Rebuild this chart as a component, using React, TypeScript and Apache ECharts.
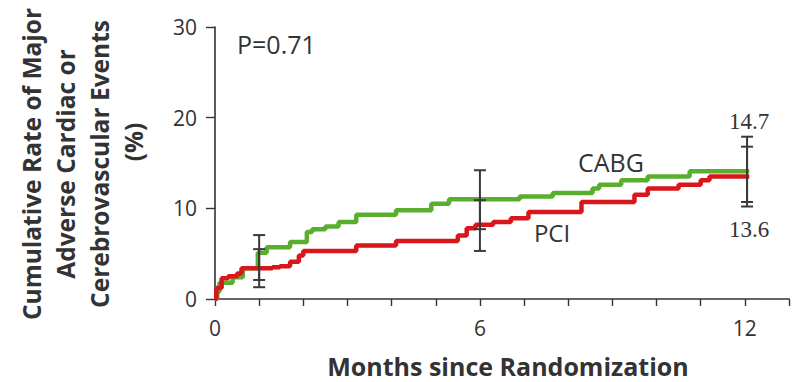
import React, { useEffect, useRef } from "react";
import * as echarts from "echarts";

// CABG (green) step curve: [month, cumulative %]
const cabgX = [0, 0.05, 0.1, 0.4, 0.63, 0.97, 1.17, 1.7, 2.08, 2.2, 2.5, 2.8, 3.2, 4.1, 4.9, 5.3, 6.9, 7.65, 8.55, 8.7, 9.2, 9.8, 10.75, 12.1];
const cabgY = [0, 0.8, 1.8, 2.4, 3.4, 5.1, 5.7, 6.3, 7.4, 7.7, 8.0, 8.5, 9.3, 9.8, 10.5, 11.0, 11.3, 11.7, 12.2, 12.6, 13.1, 13.5, 14.1, 14.1];

// PCI (red) step curve
const pciX = [0, 0.03, 0.15, 0.3, 0.5, 0.6, 1.3, 1.47, 1.7, 1.9, 2.0, 3.2, 4.1, 5.5, 5.7, 5.9, 6.3, 6.7, 7.1, 8.3, 9.5, 9.8, 10.5, 11.0, 11.2, 12.1];
const pciY = [0, 1.2, 2.3, 2.5, 2.8, 3.4, 3.5, 3.6, 4.1, 4.8, 5.3, 5.9, 6.4, 7.0, 7.8, 8.2, 8.5, 8.9, 9.6, 10.7, 11.5, 12.2, 12.6, 13.1, 13.5, 13.5];

// Error bars (95% CI)
const errX = [1, 1, 6, 6, 12.05, 12.05];
const errLow = [2.1, 1.3, 7.7, 5.3, 10.7, 10.2];
const errHigh = [7.05, 5.5, 14.2, 10.9, 17.9, 16.8];

const xTickLabels = [0, 6, 12];
const yTicks = [0, 10, 20, 30];

const yTitleLines = ["Cumulative Rate of Major", "Adverse Cardiac or", "Cerebrovascular Events", "(%)"];
const xTitle = "Months since Randomization";
const pLabel = "P=0.71";
const cabgLabel = "CABG";
const pciLabel = "PCI";
const cabgEnd = "14.7";
const pciEnd = "13.6";

const SANS = '"Open Sans", "Noto Sans", sans-serif';
const SERIF = '"Liberation Serif", "DejaVu Serif", serif';
const TXT = "#333";

export default function App() {
  const ref = useRef<HTMLDivElement>(null);

  useEffect(() => {
    if (!ref.current) return;
    const chart = echarts.init(ref.current, undefined, { renderer: "svg" });

    const cabgData = cabgX.map((x, i) => [x, cabgY[i]]);
    const pciData = pciX.map((x, i) => [x, pciY[i]]);
    const errData = errX.map((x, i) => [x, errLow[i], errHigh[i]]);

    const yTitleX = [31, 65, 99, 133];
    const yTitleY = [164, 164, 164, 142];

    const option: any = {
      animation: false,
      backgroundColor: "#fff",
      grid: { left: 215, right: 9, top: 27, bottom: 83, containLabel: false },
      xAxis: {
        type: "value",
        min: 0,
        max: 13,
        interval: 1,
        axisLine: { show: true, lineStyle: { color: "#333", width: 1.6 } },
        axisTick: { show: true, length: 7, lineStyle: { color: "#333", width: 1.4 } },
        axisLabel: {
          margin: 18,
          fontSize: 21,
          fontFamily: SANS,
          color: TXT,
          formatter: (v: number) => (xTickLabels.indexOf(v) >= 0 ? String(v) : ""),
        },
        splitLine: { show: false },
      },
      yAxis: {
        type: "value",
        min: 0,
        max: 30,
        interval: 10,
        axisLine: { show: true, lineStyle: { color: "#333", width: 1.6 } },
        axisTick: { show: true, length: 9, lineStyle: { color: "#333", width: 1.4 } },
        axisLabel: {
          margin: 18,
          fontSize: 21,
          fontFamily: SANS,
          color: TXT,
          formatter: (v: number) => (yTicks.indexOf(v) >= 0 ? String(v) : ""),
        },
        splitLine: { show: false },
      },
      series: [
        {
          name: "CABG",
          type: "line",
          step: "end",
          data: cabgData,
          showSymbol: false,
          lineStyle: { color: "#5aae2e", width: 4.5 },
          z: 2,
        },
        {
          name: "PCI",
          type: "line",
          step: "end",
          data: pciData,
          showSymbol: false,
          lineStyle: { color: "#d8161c", width: 4.5 },
          z: 3,
        },
        {
          name: "CI",
          type: "custom",
          data: errData,
          encode: { x: 0, y: [1, 2] },
          z: 5,
          renderItem: (params: any, api: any) => {
            const x = api.value(0);
            const lo = api.coord([x, api.value(1)]);
            const hi = api.coord([x, api.value(2)]);
            const w = 6;
            const style = { stroke: "#3a3a3a", lineWidth: 2 };
            return {
              type: "group",
              children: [
                { type: "line", shape: { x1: lo[0], y1: lo[1], x2: hi[0], y2: hi[1] }, style },
                { type: "line", shape: { x1: hi[0] - w, y1: hi[1], x2: hi[0] + w, y2: hi[1] }, style },
                { type: "line", shape: { x1: lo[0] - w, y1: lo[1], x2: lo[0] + w, y2: lo[1] }, style },
              ],
            };
          },
        },
      ],
      graphic: [
        ...yTitleLines.map((t, i) => ({
          type: "text",
          x: yTitleX[i],
          y: yTitleY[i],
          rotation: Math.PI / 2,
          style: {
            text: t,
            font: `bold 24.5px ${SANS}`,
            fill: TXT,
            align: "center",
            verticalAlign: "middle",
          },
        })),
        {
          type: "text",
          x: 508,
          y: 366,
          style: { text: xTitle, font: `bold 25px ${SANS}`, fill: TXT, align: "center", verticalAlign: "middle" },
        },
        {
          type: "text",
          x: 237,
          y: 44,
          style: { text: pLabel, font: `25px ${SANS}`, fill: TXT, align: "left", verticalAlign: "middle" },
        },
        {
          type: "text",
          x: 611,
          y: 162,
          style: { text: cabgLabel, font: `25px ${SANS}`, fill: TXT, align: "center", verticalAlign: "middle" },
        },
        {
          type: "text",
          x: 552,
          y: 232,
          style: { text: pciLabel, font: `24px ${SANS}`, fill: TXT, align: "center", verticalAlign: "middle" },
        },
        {
          type: "text",
          x: 749,
          y: 121,
          style: { text: cabgEnd, font: `23px ${SERIF}`, fill: TXT, align: "center", verticalAlign: "middle" },
        },
        {
          type: "text",
          x: 749,
          y: 229,
          style: { text: pciEnd, font: `23px ${SERIF}`, fill: TXT, align: "center", verticalAlign: "middle" },
        },
      ],
    };

    chart.setOption(option);
    return () => chart.dispose();
  }, []);

  return (
    <div
      ref={ref}
      style={{ position: "fixed", left: 0, top: 0, width: 798, height: 382, background: "#fff" }}
    />
  );
}
